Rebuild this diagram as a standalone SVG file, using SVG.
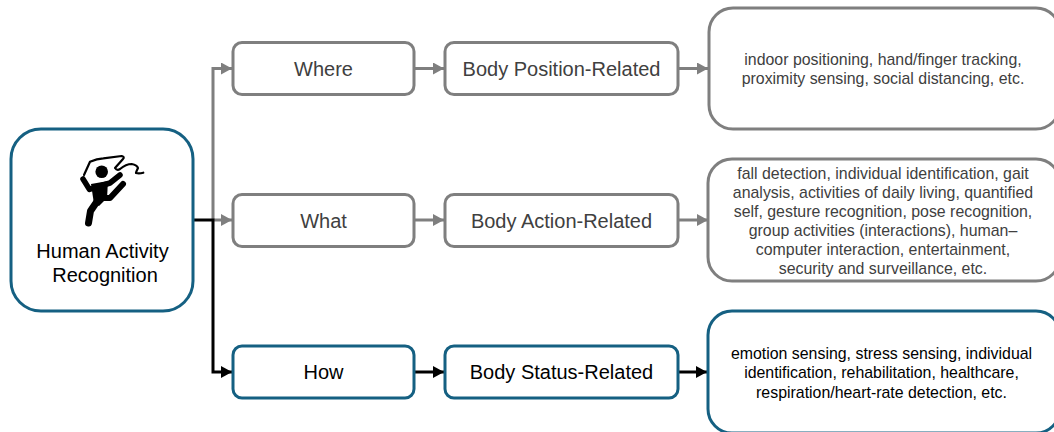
<svg xmlns="http://www.w3.org/2000/svg" width="1054" height="432" viewBox="0 0 1054 432">
<style>
text{font-family:"Liberation Sans",Arial,sans-serif;text-anchor:middle}
.g rect{fill:#fff;stroke:#7f7f7f;stroke-width:3}
.b rect{fill:#fff;stroke:#156082;stroke-width:3}
.g text{fill:#404040}
.b text{fill:#000}
.l{font-size:20px}
.s{font-size:15.9px}
.cg{fill:none;stroke:#7f7f7f;stroke-width:3}
.ck{fill:none;stroke:#000;stroke-width:3}
.fig{fill:none;stroke:#000;stroke-linecap:round;stroke-linejoin:round}
</style>
<defs>
<marker id="ag" markerUnits="userSpaceOnUse" markerWidth="12" markerHeight="12" refX="11" refY="6" orient="auto"><path d="M0 0L11 6L0 12Z" fill="#7f7f7f"/></marker>
<marker id="ak" markerUnits="userSpaceOnUse" markerWidth="12" markerHeight="12" refX="11" refY="6" orient="auto"><path d="M0 0L11 6L0 12Z" fill="#000"/></marker>
</defs>
<g id="connectors">
<path class="cg" d="M213 220V68.500H232" marker-end="url(#ag)"/>
<path class="cg" d="M213 220H232" marker-end="url(#ag)"/>
<path class="cg" d="M415 68.500H444" marker-end="url(#ag)"/>
<path class="cg" d="M415 220H444" marker-end="url(#ag)"/>
<path class="cg" d="M679 68.500H708" marker-end="url(#ag)"/>
<path class="cg" d="M679 220H708" marker-end="url(#ag)"/>
<path class="ck" d="M193 220H213V372H232" marker-end="url(#ak)"/>
<path class="ck" d="M415 372H444" marker-end="url(#ak)"/>
<path class="ck" d="M679 372H707" marker-end="url(#ak)"/>
</g>
<g id="har" class="b">
<rect x="11" y="129" width="182" height="182" rx="30"/>
<circle cx="101.700" cy="171.700" r="6.300" fill="#000"/>
<path class="fig" stroke-width="5.500" d="M83 179L89.500 189.500L97 187L110 183L120 175"/>
<path d="M91 184L108 181L107 198L99 206L94 204Z" fill="#000"/>
<path class="fig" stroke-width="6" d="M104 198L110 198L123 184"/>
<path class="fig" stroke-width="7" d="M98 200L90.500 211L88.500 223"/>
<path class="fig" stroke-width="2.200" d="M84 175L90 161.700Q97 158.500 103.300 158.300L121.700 156Q125 157 123 159L115 168Q117 171 120 169Q126 164 131.700 164Q137 165 138 168Q136 172 136 173Q139 174 143.300 172.700"/>
<text class="l" x="102.500" y="257.500">Human Activity</text>
<text class="l" x="105" y="281.500">Recognition</text>
</g>
<g id="where" class="g"><rect x="233" y="42.500" width="181" height="52" rx="9"/><text class="l" x="323.500" y="75.500">Where</text></g>
<g id="what" class="g"><rect x="233" y="194.500" width="181" height="52" rx="9"/><text class="l" x="323.500" y="227.500">What</text></g>
<g id="how" class="b"><rect x="233" y="346" width="181" height="52" rx="9"/><text class="l" x="323.500" y="379">How</text></g>
<g id="position" class="g"><rect x="445" y="42.500" width="233" height="52" rx="9"/><text class="l" x="561.500" y="75.500">Body Position-Related</text></g>
<g id="action" class="g"><rect x="445" y="194.500" width="233" height="52" rx="9"/><text class="l" x="561.500" y="227.500">Body Action-Related</text></g>
<g id="status" class="b"><rect x="445" y="346" width="233" height="52" rx="9"/><text class="l" x="561.500" y="379">Body Status-Related</text></g>
<g id="position-apps" class="g"><rect x="709" y="8" width="351" height="121" rx="24"/>
<text class="s" x="883" y="65">indoor positioning, hand/finger tracking,</text>
<text class="s" x="883" y="84">proximity sensing, social distancing, etc.</text></g>
<g id="action-apps" class="g"><rect x="708" y="159" width="352" height="122" rx="24"/>
<text class="s" x="883" y="179">fall detection, individual identification, gait</text>
<text class="s" x="883" y="197.500">analysis, activities of daily living, quantified</text>
<text class="s" x="883" y="217">self, gesture recognition, pose recognition,</text>
<text class="s" x="883" y="236">group activities (interactions), human–</text>
<text class="s" x="883" y="255">computer interaction, entertainment,</text>
<text class="s" x="883" y="274">security and surveillance, etc.</text></g>
<g id="status-apps" class="b"><rect x="708" y="311" width="352" height="122" rx="24"/>
<text class="s" x="881.500" y="359">emotion sensing, stress sensing, individual</text>
<text class="s" x="881.500" y="378">identification, rehabilitation, healthcare,</text>
<text class="s" x="881.500" y="398">respiration/heart-rate detection, etc.</text></g>
</svg>
